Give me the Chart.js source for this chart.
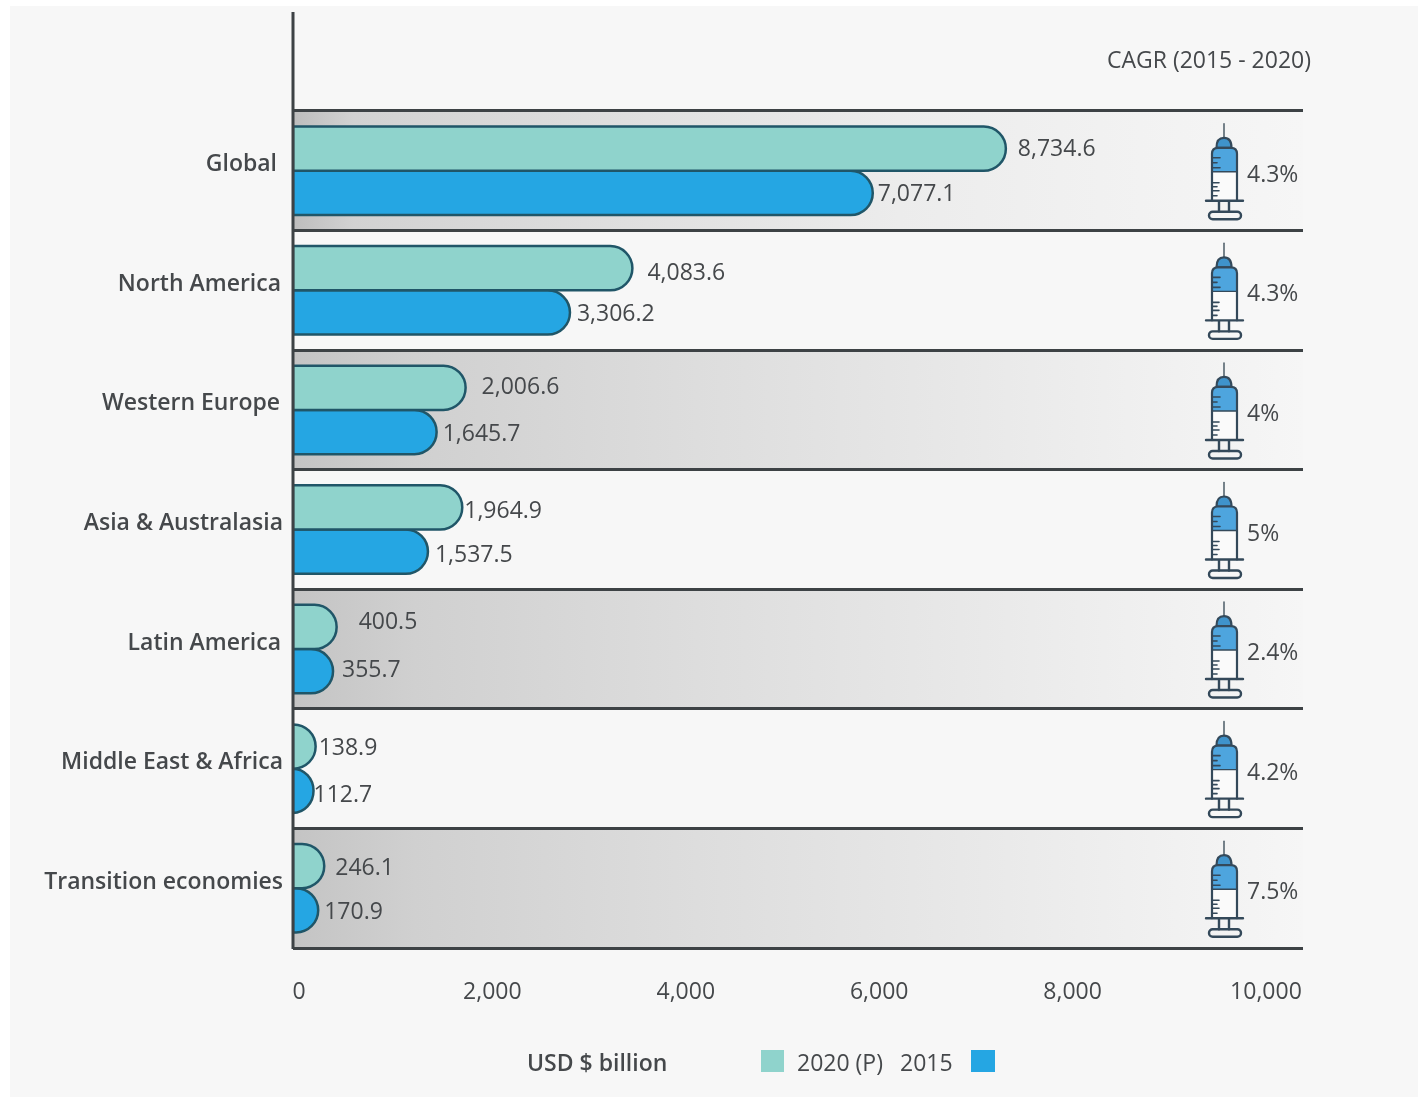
<!DOCTYPE html>
<html>
<head>
<meta charset="utf-8">
<title>Pharmaceutical market by region</title>
<script src="https://cdn.jsdelivr.net/npm/chart.js@4/dist/chart.umd.min.js"></script>
<style>
html, body { margin: 0; padding: 0; background: #fff; }
canvas { display: block; }
</style>
</head>
<body>
<canvas id="marketChart" width="1418" height="1097"></canvas>
<script>
// Market size by region, USD billion
const regions = ['Global', 'North America', 'Western Europe', 'Asia & Australasia', 'Latin America', 'Middle East & Africa', 'Transition economies'];
const values2020 = [8734.6, 4083.6, 2006.6, 1964.9, 400.5, 138.9, 246.1];
const values2015 = [7077.1, 3306.2, 1645.7, 1537.5, 355.7, 112.7, 170.9];
const cagr = [4.3, 4.3, 4, 5, 2.4, 4.2, 7.5];
const axisTicks = [0, 2000, 4000, 6000, 8000, 10000];

const FONT = '"Open Sans", sans-serif';
const TEXT = '#45484b';
const LINE = '#3d4245';
const TEAL = '#8fd3cc';
const BLUE = '#25a6e3';
const BAR_EDGE = '#205668';
const PANEL = '#f7f7f7';

// The bars start at the axis line, a little left of their own zero
const BAR_MIN = -143;
const BAR_MAX = 12435;

// Hand placement of the labels
const nudge2020 = [[12, 1], [15, 5], [16, 0], [2, 4], [22, -4], [3, 2], [11, 2]];
const nudge2015 = [[5, 2], [7, 2], [6, 2], [7, 4], [9, -1], [0, 5], [6, 2]];
const regionLabelRight = [277, 281, 280, 283, 281, 283, 283];

// Round bar ends, squeezed into an ellipse on very short bars
Chart.BarElement.prototype.draw = function (ctx) {
    const { x, y, base, height } = this.getProps(['x', 'y', 'base', 'height']);
    const o = this.options;
    const ry = height / 2;
    const rx = Math.min(ry, x - base);
    ctx.save();
    ctx.beginPath();
    ctx.moveTo(base, y - ry);
    ctx.lineTo(x - rx, y - ry);
    ctx.ellipse(x - rx, y, rx, ry, 0, -Math.PI / 2, Math.PI / 2);
    ctx.lineTo(base, y + ry);
    ctx.closePath();
    ctx.fillStyle = o.backgroundColor;
    ctx.fill();
    ctx.strokeStyle = o.borderColor;
    ctx.lineWidth = o.borderWidth;
    ctx.stroke();
    ctx.restore();
};

const backdrop = {
    id: 'backdrop',
    beforeDraw(chart) {
        const { ctx, chartArea: a, scales: { y } } = chart;
        ctx.save();
        ctx.fillStyle = PANEL;
        ctx.fillRect(10, 6, chart.width - 10, chart.height - 6);
        // Every other row gets a grey band that fades out to the right
        const h = y.height / regions.length;
        regions.forEach((r, i) => {
            if (i % 2) return;
            const top = y.getPixelForTick(i) - h / 2;
            const g = ctx.createLinearGradient(a.left, 0, a.right, 0);
            if (i === 0) {
                g.addColorStop(0, '#bdbdbd');
                g.addColorStop(0.06, '#d2d2d2');
                g.addColorStop(0.6, '#ececec');
                g.addColorStop(1, '#f6f6f6');
            } else {
                g.addColorStop(0, '#c4c4c4');
                g.addColorStop(0.12, '#d0d0d0');
                g.addColorStop(0.4, '#dddddd');
                g.addColorStop(0.85, '#f0f0f0');
                g.addColorStop(1, '#f6f6f6');
            }
            ctx.fillStyle = g;
            ctx.fillRect(a.left, top, a.right - a.left, h);
        });
        ctx.restore();
    }
};

function drawSyringe(ctx, cx, cy) {
    ctx.save();
    ctx.translate(cx, cy);
    ctx.strokeStyle = '#34495a';
    ctx.lineCap = 'round';
    ctx.lineJoin = 'round';

    // needle
    ctx.lineWidth = 1.6;
    ctx.strokeStyle = '#55656f';
    ctx.beginPath();
    ctx.moveTo(0, -47);
    ctx.lineTo(0, -33);
    ctx.stroke();
    ctx.strokeStyle = '#34495a';

    // hub
    ctx.lineWidth = 2.2;
    ctx.fillStyle = '#3f93cb';
    ctx.beginPath();
    ctx.moveTo(-7.5, -23);
    ctx.bezierCurveTo(-7.5, -30, -5, -33, 0, -33);
    ctx.bezierCurveTo(5, -33, 7.5, -30, 7.5, -23);
    ctx.closePath();
    ctx.fill();
    ctx.stroke();

    // barrel, blue above and pale below
    ctx.fillStyle = '#fafafa';
    ctx.fillRect(-12, -2, 25, 32);
    ctx.fillStyle = '#4ea5de';
    ctx.beginPath();
    ctx.moveTo(-12, 1);
    ctx.lineTo(-12, -17);
    ctx.quadraticCurveTo(-12, -23, -6, -23);
    ctx.lineTo(7, -23);
    ctx.quadraticCurveTo(13, -23, 13, -17);
    ctx.lineTo(13, 1);
    ctx.closePath();
    ctx.fill();
    ctx.beginPath();
    ctx.moveTo(-12, 30);
    ctx.lineTo(-12, -17);
    ctx.quadraticCurveTo(-12, -23, -6, -23);
    ctx.lineTo(7, -23);
    ctx.quadraticCurveTo(13, -23, 13, -17);
    ctx.lineTo(13, 30);
    ctx.stroke();
    ctx.lineWidth = 1.4;
    ctx.beginPath();
    ctx.moveTo(-12, 1);
    ctx.lineTo(13, 1);
    ctx.stroke();

    // graduation marks
    ctx.lineWidth = 1.6;
    [[-13, 8], [-8, 5], [-3, 8], [12, 7], [16, 5], [20, 7], [25, 5]].forEach(([ty, len]) => {
        ctx.beginPath();
        ctx.moveTo(-12, ty);
        ctx.lineTo(-12 + len, ty);
        ctx.stroke();
    });

    // flange, plunger and finger rest
    ctx.lineWidth = 2.4;
    ctx.beginPath();
    ctx.moveTo(-18, 30);
    ctx.lineTo(19, 30);
    ctx.moveTo(-5, 30);
    ctx.lineTo(-5, 41);
    ctx.moveTo(5, 30);
    ctx.lineTo(5, 41);
    ctx.stroke();
    ctx.beginPath();
    ctx.roundRect(-15, 41, 32, 7.5, 3.7);
    ctx.stroke();
    ctx.restore();
}

const annotations = {
    id: 'annotations',
    afterDatasetsDraw(chart) {
        const { ctx, chartArea: a, scales: { y } } = chart;
        ctx.save();

        // Value axis line runs up past the first row
        ctx.strokeStyle = LINE;
        ctx.lineWidth = 3;
        ctx.beginPath();
        ctx.moveTo(a.left, 12);
        ctx.lineTo(a.left, a.bottom + 1);
        ctx.stroke();

        ctx.textBaseline = 'middle';
        ctx.fillStyle = TEXT;

        // Region names
        ctx.font = `600 23px ${FONT}`;
        ctx.textAlign = 'right';
        regions.forEach((r, i) => {
            ctx.fillText(r, regionLabelRight[i], y.getPixelForTick(i) - 6);
        });

        // Value labels beside the bars
        ctx.font = `500 23px ${FONT}`;
        ctx.textAlign = 'left';
        [nudge2020, nudge2015].forEach((nudge, d) => {
            const meta = chart.getDatasetMeta(d);
            const values = chart.data.datasets[d].data;
            meta.data.forEach((bar, i) => {
                const label = values[i].toLocaleString('en-US', { minimumFractionDigits: 1 });
                ctx.fillText(label, bar.x + nudge[i][0], bar.y + nudge[i][1]);
            });
        });

        // Growth rate column
        regions.forEach((r, i) => {
            const cy = y.getPixelForTick(i);
            drawSyringe(ctx, 1224, cy);
            ctx.fillStyle = TEXT;
            ctx.font = `500 23px ${FONT}`;
            ctx.textAlign = 'left';
            ctx.fillText(`${cagr[i]}%`, 1247, cy + 4.5);
        });

        ctx.textAlign = 'right';
        ctx.fillText('CAGR (2015 - 2020)', 1311, 61);

        // Legend row
        ctx.font = `600 23px ${FONT}`;
        ctx.textAlign = 'left';
        ctx.fillText('USD $ billion', 527, 1064);
        ctx.font = `500 23px ${FONT}`;
        ctx.fillText('2020 (P)', 797, 1064);
        ctx.fillText('2015', 900, 1064);
        ctx.fillStyle = TEAL;
        ctx.fillRect(761, 1050, 23, 22);
        ctx.fillStyle = BLUE;
        ctx.fillRect(971, 1050, 24, 22);
        ctx.restore();
    }
};

const barStyle = {
    base: BAR_MIN,
    borderColor: BAR_EDGE,
    borderWidth: 2.5,
    categoryPercentage: 0.74,
    barPercentage: 1
};

new Chart(document.getElementById('marketChart'), {
    type: 'bar',
    data: {
        labels: regions,
        datasets: [
            { label: '2020 (P)', data: values2020, backgroundColor: TEAL, ...barStyle },
            { label: '2015', data: values2015, backgroundColor: BLUE, ...barStyle }
        ]
    },
    options: {
        indexAxis: 'y',
        responsive: false,
        animation: false,
        layout: { padding: { top: 111, right: 115, bottom: 0, left: 0 } },
        plugins: { legend: { display: false }, tooltip: { enabled: false } },
        scales: {
            x: { display: false, min: BAR_MIN, max: BAR_MAX },
            // Printed scale sits on its own axis, spaced wider than the bars
            xTicks: {
                axis: 'x',
                position: 'bottom',
                min: -62,
                max: 10383,
                grid: { display: false },
                border: { display: false },
                afterBuildTicks: axis => { axis.ticks = axisTicks.map(value => ({ value })); },
                afterFit: axis => { axis.height = 149; },
                ticks: {
                    color: TEXT,
                    maxRotation: 0,
                    autoSkip: false,
                    padding: 23,
                    font: { family: FONT, size: 23, weight: '500' },
                    callback: v => v.toLocaleString('en-US')
                }
            },
            y: {
                afterFit: axis => { axis.width = 293; },
                grid: { color: LINE, lineWidth: 3, drawTicks: false },
                border: { display: false },
                ticks: { display: false }
            }
        }
    },
    plugins: [backdrop, annotations]
});
</script>
</body>
</html>
